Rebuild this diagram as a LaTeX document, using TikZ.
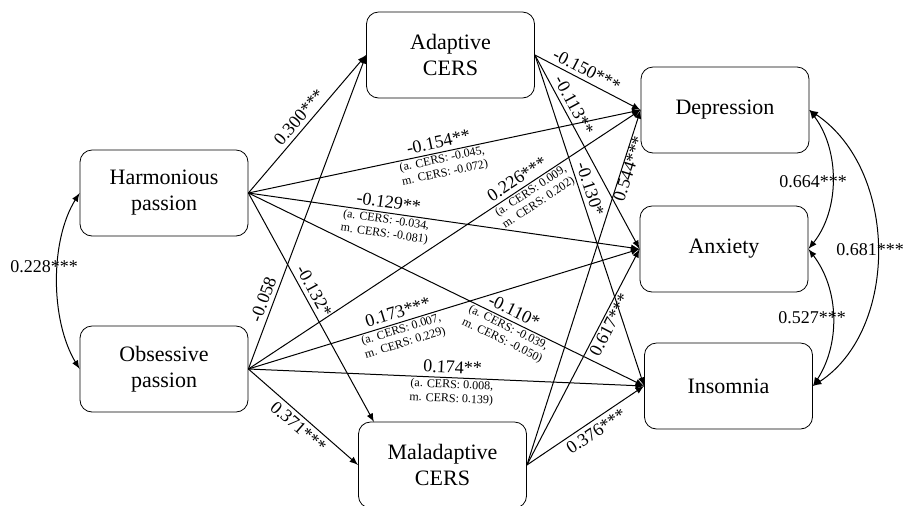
\documentclass[tikz,border=0pt]{standalone}
\usepackage{fontspec}
\setmainfont{Liberation Serif}
\usepackage{tikz}

\begin{document}
\begin{tikzpicture}[x=0.5pt, y=-0.5pt,
        box/.style={draw, rounded corners=6pt, minimum width=84pt, minimum height=43pt, align=center, inner sep=0pt, font=\fontsize{11}{13}\selectfont},
        eff/.style={-latex, line width=0.5pt},
        cov/.style={latex-latex, line width=0.5pt},
        coef/.style={sloped, inner sep=2pt, font=\fontsize{9}{10}\selectfont},
        ind/.style={sloped, inner sep=0.8pt, align=center, font=\fontsize{6}{7}\selectfont},
        corr/.style={inner sep=0pt, font=\fontsize{9}{10}\selectfont}]
    \useasboundingbox (0,0) rectangle (906,505);
    \node [box] (harm) at (164,193) {Harmonious\\passion};
    \node [box] (obs) at (164,369) {Obsessive\\passion};
    \node [box] (acers) at (450.5,55) {Adaptive\\CERS};
    \node [box] (mcers) at (442.5,465) {Maladaptive\\CERS};
    \node [box] (dep) at (725,110) {Depression};
    \node [box] (anx) at (724,249) {Anxiety};
    \node [box] (ins) at (728.5,386) {Insomnia};
    \coordinate (mtop) at (374,422);

    \draw [eff] (harm.east) to node[coef, pos=.5, above]{0.300***} (acers.west);
    \draw [eff] (obs.east) to node[coef, pos=.21, above]{-0.058} (acers.west);
    \draw [eff] (harm.east) to node[coef, pos=.45, above]{-0.132*} (mtop);
    \draw [eff] (obs.east) to node[coef, pos=.52, below]{0.371***} (mcers.west);

    \draw [eff] (harm.east) to node[coef, pos=.49, above]{-0.154**}
        node[ind, pos=.49, below]{(a. CERS: -0.045,\\m. CERS: -0.072)} (dep.west);
    \draw [eff] (harm.east) to node[coef, pos=.355, above]{-0.129**}
        node[ind, pos=.355, below]{(a. CERS: -0.034,\\m. CERS: -0.081)} (anx.west);
    \draw [eff] (harm.east) to node[coef, pos=.66, above]{-0.110*}
        node[ind, pos=.665, below]{(a. CERS: -0.039,\\m. CERS: -0.050)} (ins.west);
    \draw [eff] (obs.east) to node[coef, pos=.70, above]{0.226***}
        node[ind, pos=.71, below]{(a. CERS: 0.009,\\m. CERS: 0.202)} (dep.west);
    \draw [eff] (obs.east) to node[coef, pos=.39, above]{0.173***}
        node[ind, pos=.385, below]{(a. CERS: 0.007,\\m. CERS: 0.229)} (anx.west);
    \draw [eff] (obs.east) to node[coef, pos=.515, above]{0.174**}
        node[ind, pos=.515, below]{(a. CERS: 0.008,\\m. CERS: 0.139)} (ins.west);

    \draw [eff] (acers.east) to node[coef, pos=.445, above]{-0.150***} (dep.west);
    \draw [eff] (acers.east) to node[coef, pos=.285, above]{-0.113**} (anx.west);
    \draw [eff] (acers.east) to node[coef, pos=.415, above]{-0.130*} (ins.west);
    \draw [eff] (mcers.east) to node[coef, pos=.84, below=-2pt]{0.544***} (dep.west);
    \draw [eff] (mcers.east) to node[coef, pos=.666, below=-1pt]{0.617***} (anx.west);
    \draw [eff] (mcers.east) to node[coef, pos=.54, below]{0.376***} (ins.west);

    \draw [cov] (harm.west) .. controls (50,240) and (50,320) .. (obs.west);
    \node [corr] (rho1) at (44,267) {0.228***};
    \draw [cov] (dep.east) .. controls (840,150) and (840,210) .. (anx.east);
    \node [corr] (rho2) at (813,182) {0.664***};
    \draw [cov] (anx.east) .. controls (840,290) and (840,345) .. (ins.east);
    \node [corr] (rho3) at (812,318) {0.527***};
    \draw [cov] (dep.east) .. controls (899,170) and (899,330) .. (ins.east);
    \node [corr] (rho4) at (870,250) {0.681***};
\end{tikzpicture}
\end{document}
